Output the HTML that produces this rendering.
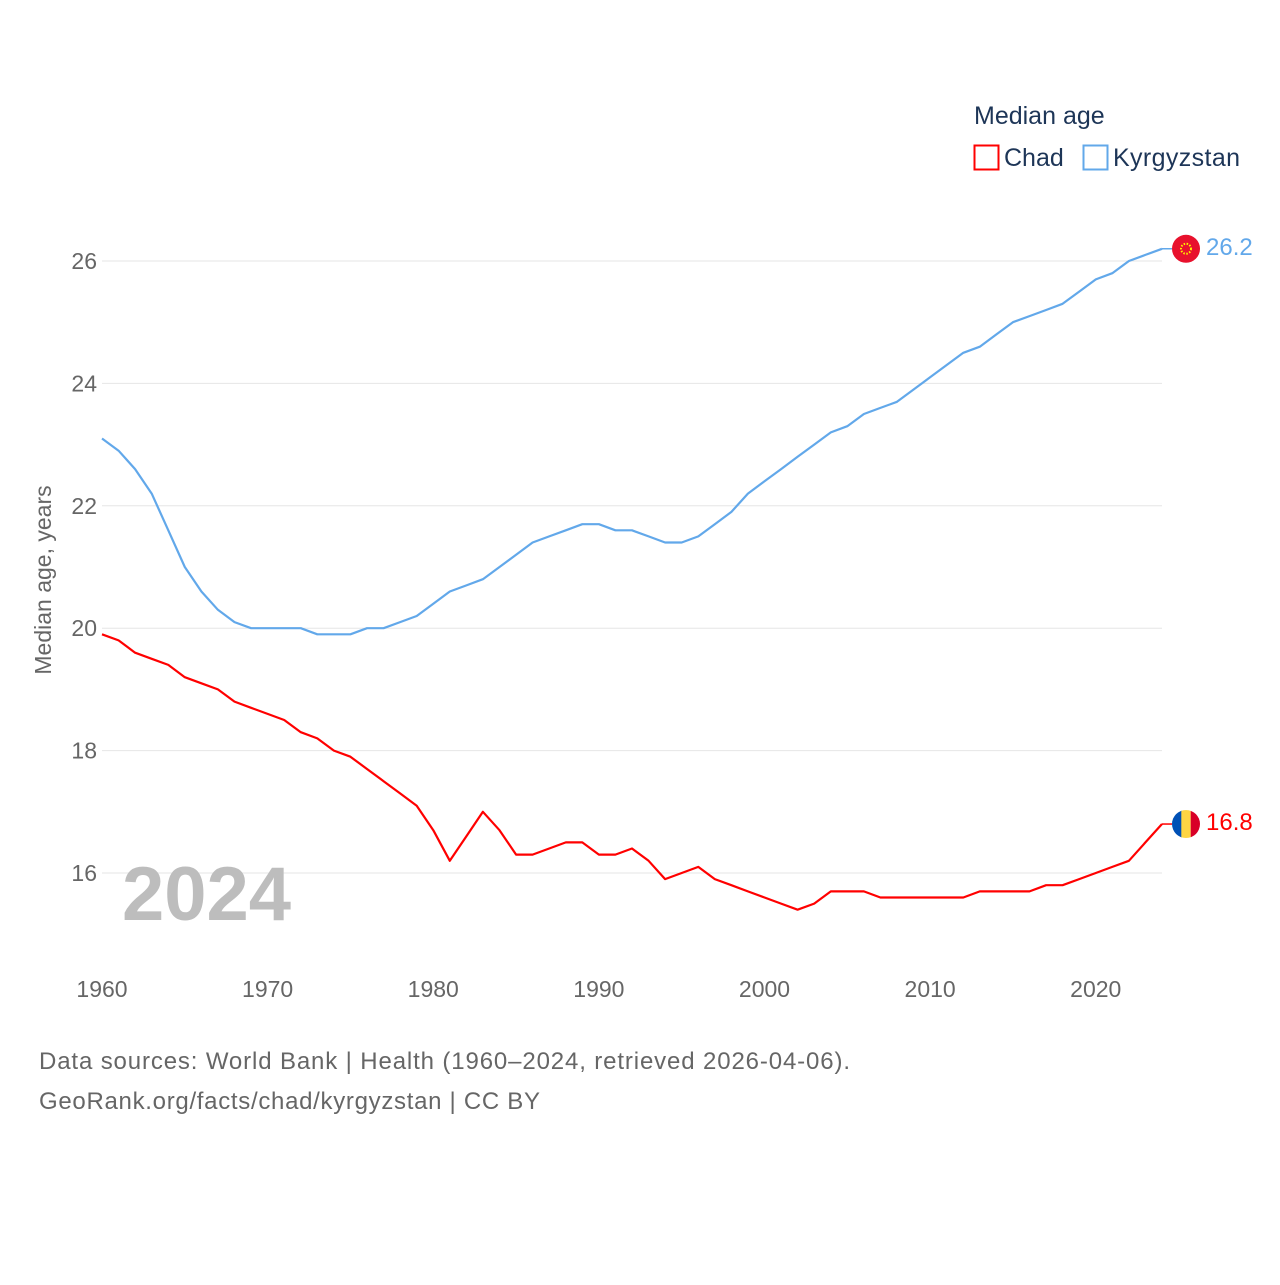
<!DOCTYPE html>
<html><head><meta charset="utf-8"><style>
body{margin:0;background:#fff;font-family:"Liberation Sans",sans-serif}
svg text{font-family:"Liberation Sans",sans-serif}
</style></head><body>
<svg id="chart" width="1280" height="1280" viewBox="0 0 1280 1280">
<text x="974" y="124" font-size="25" fill="#1d3557">Median age</text>
<g><rect x="974.5" y="145.5" width="24" height="24" fill="none" stroke="#ff0000" stroke-width="2"/><text x="1004" y="166" font-size="25" fill="#1d3557">Chad</text></g>
<g><rect x="1083.5" y="145.5" width="24" height="24" fill="none" stroke="#62a8ea" stroke-width="2"/><text x="1113" y="166" font-size="25" fill="#1d3557" textLength="127">Kyrgyzstan</text></g>
<g id="grid"></g>
<g id="yticks"></g>
<g id="xticks"></g>
<text transform="translate(51,580) rotate(-90)" text-anchor="middle" font-size="23" fill="#666">Median age, years</text>
<text x="122" y="920" font-size="76" font-weight="bold" fill="#bdbdbd">2024</text>
<g id="series"></g>
<text x="39" y="1069" font-size="24" fill="#666" textLength="811">Data sources: World Bank | Health (1960–2024, retrieved 2026-04-06).</text>
<text x="39" y="1109" font-size="24" fill="#666" textLength="501">GeoRank.org/facts/chad/kyrgyzstan | CC BY</text>
</svg>
<script>
const years = [];for(let y=1960;y<=2024;y++)years.push(y);
const yTicks = [16,18,20,22,24,26];
const xTicks = [1960,1970,1980,1990,2000,2010,2020];
const kyrgyzstan = [23.1,22.9,22.6,22.2,21.6,21.0,20.6,20.3,20.1,20.0,20.0,20.0,20.0,19.9,19.9,19.9,20.0,20.0,20.1,20.2,20.4,20.6,20.7,20.8,21.0,21.2,21.4,21.5,21.6,21.7,21.7,21.6,21.6,21.5,21.4,21.4,21.5,21.7,21.9,22.2,22.4,22.6,22.8,23.0,23.2,23.3,23.5,23.6,23.7,23.9,24.1,24.3,24.5,24.6,24.8,25.0,25.1,25.2,25.3,25.5,25.7,25.8,26.0,26.1,26.2];
const chad = [19.9,19.8,19.6,19.5,19.4,19.2,19.1,19.0,18.8,18.7,18.6,18.5,18.3,18.2,18.0,17.9,17.7,17.5,17.3,17.1,16.7,16.2,16.6,17.0,16.7,16.3,16.3,16.4,16.5,16.5,16.3,16.3,16.4,16.2,15.9,16.0,16.1,15.9,15.8,15.7,15.6,15.5,15.4,15.5,15.7,15.7,15.7,15.6,15.6,15.6,15.6,15.6,15.6,15.7,15.7,15.7,15.7,15.8,15.8,15.9,16.0,16.1,16.2,16.5,16.8];
const NS='http://www.w3.org/2000/svg';
const xs=y=>102+(y-1960)*(1162-102)/64;
const ys=v=>873-(v-16)*(873-261)/10;
function mk(tag,attrs,parent){const e=document.createElementNS(NS,tag);for(const k in attrs)e.setAttribute(k,attrs[k]);parent.appendChild(e);return e;}
const grid=document.getElementById('grid'),yt=document.getElementById('yticks'),xt=document.getElementById('xticks'),ser=document.getElementById('series');
yTicks.forEach(v=>{
  const l=mk('line',{x1:102,x2:1162,y1:ys(v),y2:ys(v),stroke:'#e6e6e6','stroke-width':1},grid);
  
  
  const t=mk('text',{x:97,y:ys(v)+8,'text-anchor':'end','font-size':23,fill:'#666'},yt);
  t.textContent=v;
  
  
});
xTicks.forEach(v=>{
  const t=mk('text',{x:xs(v),y:997,'text-anchor':'middle','font-size':23,fill:'#666'},xt);
  t.textContent=v;
  
  
});
function line(data,color,name){
  const d=data.map((v,i)=>(i?'L':'M')+xs(years[i]).toFixed(1)+','+ys(v).toFixed(1)).join('');
  const p=mk('path',{d:d,fill:'none',stroke:color,'stroke-width':2.2,'stroke-linejoin':'round'},ser);
  
  
  const last=data[data.length-1],ly=ys(last),lx=xs(years[years.length-1]);
  mk('line',{x1:lx,x2:lx+10,y1:ly,y2:ly,stroke:color,'stroke-width':1.5},ser);
  const t=mk('text',{x:lx+44,y:ly+6,'font-size':24,fill:color},ser);
  t.textContent=last.toFixed(1);
  
  
  return [lx+24,ly];
}
const [kx,ky]=line(kyrgyzstan,'#62a8ea','kyrgyzstan');
const [cx,cy]=line(chad,'#ff0000','chad');
const kf=mk('g',{},ser);


mk('circle',{cx:kx,cy:ky,r:14,fill:'#e8112d'},kf);
mk('circle',{cx:kx,cy:ky,r:5,fill:'none',stroke:'#ffef00','stroke-width':2,'stroke-dasharray':'1.5 1.5'},kf);
const cf=mk('g',{},ser);


const cp=mk('clipPath',{id:'cc'},cf);mk('circle',{cx:cx,cy:cy,r:14},cp);
mk('rect',{x:cx-14,y:cy-14,width:10,height:28,fill:'#0050b5','clip-path':'url(#cc)'},cf);
mk('rect',{x:cx-4.7,y:cy-14,width:9.4,height:28,fill:'#fed543','clip-path':'url(#cc)'},cf);
mk('rect',{x:cx+4.7,y:cy-14,width:10,height:28,fill:'#d80027','clip-path':'url(#cc)'},cf);
</script>
</body></html>
